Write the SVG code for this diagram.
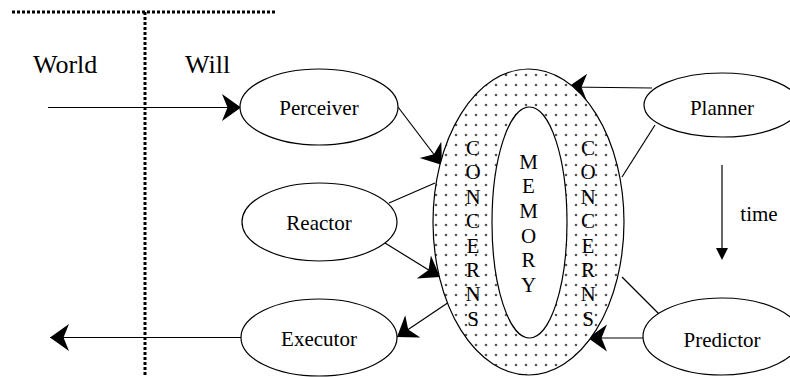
<svg xmlns="http://www.w3.org/2000/svg" width="790" height="377" viewBox="0 0 790 377">
  <style>
    .node { fill: #fff; stroke: #000; stroke-width: 1.2; }
    .lbl { font-family: "Liberation Serif", "Times New Roman", serif; font-size: 21px; fill: #000; text-anchor: middle; }
    .big { font-family: "Liberation Serif", "Times New Roman", serif; font-size: 26px; fill: #000; }
    .edge { stroke: #000; stroke-width: 1.2; fill: none; }
    .arrow { marker-end: url(#head); }
    .divider { stroke: #000; stroke-width: 3; stroke-dasharray: 3 2; fill: none; }
  </style>
  <defs>
    <marker id="head" markerUnits="userSpaceOnUse" viewBox="-20 -14 21 28" refX="0" refY="0" markerWidth="21" markerHeight="28" orient="auto" overflow="visible">
      <path d="M0,0 L-19,-13.5 L-13.5,0 L-19,13.5 Z" fill="#000"/>
    </marker>
    <pattern id="dots" patternUnits="userSpaceOnUse" x="0" y="0" width="10" height="10">
      <circle cx="6" cy="5" r="1.3" fill="#555"/>
    </pattern>
  </defs>

  <!-- World / Will divider -->
  <g id="divider">
    <line class="divider" x1="12" y1="12" x2="277" y2="12"/>
    <line class="divider" x1="145" y1="12" x2="145" y2="377"/>
    <text class="big" x="33" y="73">World</text>
    <text class="big" x="185" y="73">Will</text>
  </g>

  <!-- connectors -->
  <g id="connectors">
    <line class="edge arrow" x1="48" y1="107.5" x2="241" y2="107.5"/>
    <line class="edge arrow" x1="398" y1="107" x2="442" y2="165"/>
    <line class="edge" x1="389" y1="203" x2="435" y2="183"/>
    <line class="edge arrow" x1="385" y1="243" x2="440" y2="277"/>
    <line class="edge arrow" x1="452" y1="300" x2="397" y2="337"/>
    <line class="edge arrow" x1="241" y1="337.5" x2="50" y2="337.5"/>
    <line class="edge arrow" x1="652" y1="88" x2="568" y2="87"/>
    <line class="edge" x1="655" y1="125" x2="622" y2="177"/>
    <line class="edge" x1="660" y1="315" x2="622" y2="277"/>
    <line class="edge arrow" x1="643" y1="338" x2="588" y2="338"/>
  </g>

  <!-- time axis -->
  <g id="time">
    <line class="edge" x1="722" y1="165" x2="722" y2="249"/>
    <path d="M716,248 L728,248 L722,260 Z" fill="#000"/>
    <text class="lbl" x="759" y="221">time</text>
  </g>

  <!-- concerns ring with memory core -->
  <g id="concerns">
    <ellipse cx="528.5" cy="222" rx="95.5" ry="153" fill="#fff" stroke="none"/>
    <ellipse cx="528.5" cy="222" rx="95.5" ry="153" fill="url(#dots)" stroke="#000" stroke-width="1.2"/>
    <g class="lbl">
      <text x="473" y="155">C</text>
      <text x="473" y="179.4">O</text>
      <text x="473" y="203.8">N</text>
      <text x="473" y="228.2">C</text>
      <text x="473" y="252.6">E</text>
      <text x="473" y="277">R</text>
      <text x="473" y="301.4">N</text>
      <text x="473" y="325.8">S</text>
      <text x="588" y="155">C</text>
      <text x="588" y="179.4">O</text>
      <text x="588" y="203.8">N</text>
      <text x="588" y="228.2">C</text>
      <text x="588" y="252.6">E</text>
      <text x="588" y="277">R</text>
      <text x="588" y="301.4">N</text>
      <text x="588" y="325.8">S</text>
    </g>
  </g>
  <g id="memory">
    <ellipse class="node" cx="529.5" cy="222.5" rx="37.5" ry="115.5"/>
    <g class="lbl">
      <text x="528.5" y="168.5">M</text>
      <text x="528.5" y="193.2">E</text>
      <text x="528.5" y="217.9">M</text>
      <text x="528.5" y="242.6">O</text>
      <text x="528.5" y="267.3">R</text>
      <text x="528.5" y="292">Y</text>
    </g>
  </g>

  <!-- process nodes -->
  <g id="perceiver">
    <ellipse class="node" cx="319" cy="107" rx="79" ry="38"/>
    <text class="lbl" x="319" y="114.5">Perceiver</text>
  </g>
  <g id="reactor">
    <ellipse class="node" cx="319.5" cy="222" rx="77.5" ry="39"/>
    <text class="lbl" x="319" y="230">Reactor</text>
  </g>
  <g id="executor">
    <ellipse class="node" cx="319" cy="337.5" rx="78" ry="38.5"/>
    <text class="lbl" x="319" y="345.5">Executor</text>
  </g>
  <g id="planner">
    <ellipse class="node" cx="722" cy="105" rx="78" ry="32"/>
    <text class="lbl" x="722" y="115">Planner</text>
  </g>
  <g id="predictor">
    <ellipse class="node" cx="722" cy="336.5" rx="79" ry="38.5"/>
    <text class="lbl" x="722" y="347">Predictor</text>
  </g>
</svg>
